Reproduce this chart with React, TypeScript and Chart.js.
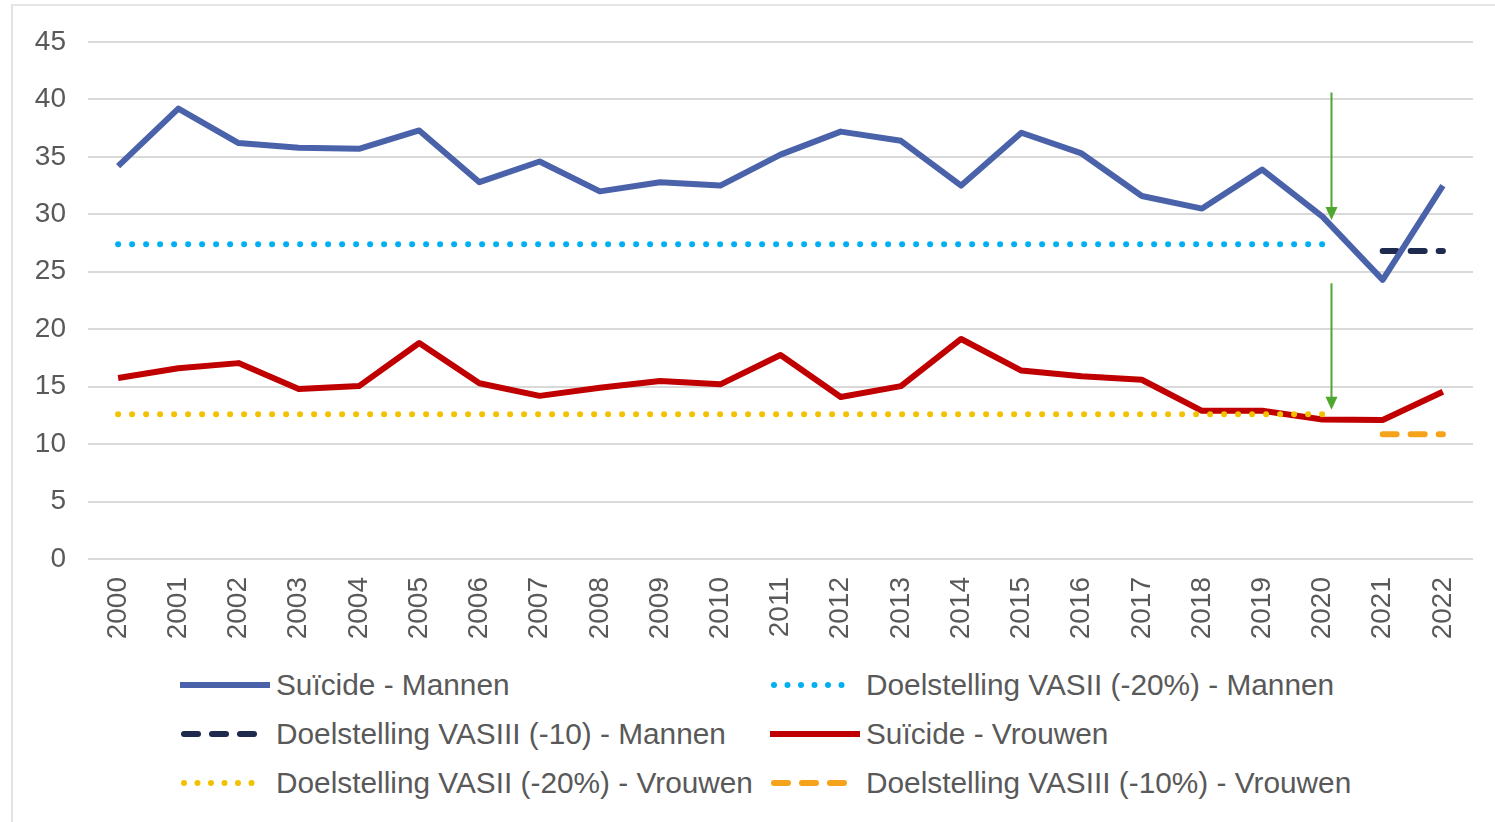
import React, { useEffect, useRef } from "react";
import { Chart, registerables } from "chart.js";

Chart.register(...registerables);

const years = ["2000","2001","2002","2003","2004","2005","2006","2007","2008","2009","2010","2011","2012","2013","2014","2015","2016","2017","2018","2019","2020","2021","2022"];

const suicideMannen = [34.2, 39.2, 36.2, 35.8, 35.7, 37.3, 32.8, 34.6, 32.0, 32.8, 32.5, 35.2, 37.2, 36.4, 32.5, 37.1, 35.3, 31.6, 30.5, 33.9, 29.8, 24.3, 32.5];
const suicideVrouwen = [15.75, 16.6, 17.05, 14.8, 15.05, 18.8, 15.3, 14.2, 14.9, 15.5, 15.2, 17.75, 14.1, 15.05, 19.15, 16.4, 15.9, 15.6, 12.9, 12.9, 12.15, 12.1, 14.55];
const vasiiMannen = [27.4, 27.4, 27.4, 27.4, 27.4, 27.4, 27.4, 27.4, 27.4, 27.4, 27.4, 27.4, 27.4, 27.4, 27.4, 27.4, 27.4, 27.4, 27.4, 27.4, 27.4, null, null];
const vasiiiMannen = [null, null, null, null, null, null, null, null, null, null, null, null, null, null, null, null, null, null, null, null, null, 26.8, 26.8];
const vasiiVrouwen = [12.6, 12.6, 12.6, 12.6, 12.6, 12.6, 12.6, 12.6, 12.6, 12.6, 12.6, 12.6, 12.6, 12.6, 12.6, 12.6, 12.6, 12.6, 12.6, 12.6, 12.6, null, null];
const vasiiiVrouwen = [null, null, null, null, null, null, null, null, null, null, null, null, null, null, null, null, null, null, null, null, null, 10.85, 10.85];

const yTicks = [0, 5, 10, 15, 20, 25, 30, 35, 40, 45];

// green annotation arrows: [categoryIndex, fromValue, toValue]
const arrowIndex = 20.15;
const arrowFrom = [40.6, 24.0];
const arrowTo = [29.5, 13.0];

const FONT = "'Liberation Sans', Arial, sans-serif";
const TEXT = "#595959";

const legendItems = [
  { label: "Suïcide - Mannen", color: "#4A62A9", kind: "solid", col: 0, row: 0 },
  { label: "Doelstelling VASII (-20%) - Mannen", color: "#00B0F0", kind: "dot", col: 1, row: 0 },
  { label: "Doelstelling VASIII (-10) - Mannen", color: "#1F2A4F", kind: "dash", col: 0, row: 1 },
  { label: "Suïcide - Vrouwen", color: "#C00000", kind: "solid", col: 1, row: 1 },
  { label: "Doelstelling VASII (-20%) - Vrouwen", color: "#F2C100", kind: "dot", col: 0, row: 2 },
  { label: "Doelstelling VASIII (-10%) - Vrouwen", color: "#F5A31A", kind: "dash", col: 1, row: 2 },
];

const arrowPlugin = {
  id: "arrows",
  afterDatasetsDraw(chart: any) {
    const { ctx, scales } = chart;
    const xs = scales.x;
    const ys = scales.y;
    const x = xs.getPixelForValue(20) + (arrowIndex - 20) * (xs.getPixelForValue(21) - xs.getPixelForValue(20));
    ctx.save();
    ctx.strokeStyle = "#4EA72E";
    ctx.fillStyle = "#4EA72E";
    ctx.lineWidth = 2;
    for (let i = 0; i < arrowFrom.length; i++) {
      const y1 = ys.getPixelForValue(arrowFrom[i]);
      const y2 = ys.getPixelForValue(arrowTo[i]);
      ctx.beginPath();
      ctx.moveTo(x, y1);
      ctx.lineTo(x, y2 - 10);
      ctx.stroke();
      ctx.beginPath();
      ctx.moveTo(x - 6, y2 - 13);
      ctx.lineTo(x + 6, y2 - 13);
      ctx.lineTo(x, y2);
      ctx.closePath();
      ctx.fill();
    }
    ctx.restore();
  },
};

function Sample({ color, kind }: { color: string; kind: string }) {
  const dash = kind === "dot" ? "0 13.5" : kind === "dash" ? "14 14" : undefined;
  return (
    <svg width={92} height={12} style={{ display: "block" }}>
      <line
        x1={kind === "solid" ? 0 : 4}
        y1={6}
        x2={kind === "solid" ? 90 : 82}
        y2={6}
        stroke={color}
        strokeWidth={6}
        strokeLinecap={kind === "solid" ? "butt" : "round"}
        strokeDasharray={dash}
      />
    </svg>
  );
}

export default function App() {
  const ref = useRef<HTMLCanvasElement>(null);

  useEffect(() => {
    if (!ref.current) return;
    const dotted = (color: string) => ({
      borderColor: color,
      borderWidth: 6,
      borderDash: [0, 14],
      borderCapStyle: "round" as const,
    });
    const dashed = (color: string) => ({
      borderColor: color,
      borderWidth: 6,
      borderDash: [14, 14],
      borderCapStyle: "round" as const,
    });
    const chart = new Chart(ref.current, {
      type: "line",
      data: {
        labels: years,
        datasets: [
          { label: "Doelstelling VASII (-20%) - Vrouwen", data: vasiiVrouwen, ...dotted("#F2C100"), order: 1 },
          { label: "Suïcide - Mannen", data: suicideMannen, borderColor: "#4A62A9", borderWidth: 6, borderJoinStyle: "round", order: 2 },
          { label: "Doelstelling VASIII (-10) - Mannen", data: vasiiiMannen, ...dashed("#1F2A4F"), order: 3 },
          { label: "Doelstelling VASII (-20%) - Mannen", data: vasiiMannen, ...dotted("#00B0F0"), order: 4 },
          { label: "Suïcide - Vrouwen", data: suicideVrouwen, borderColor: "#C00000", borderWidth: 6, borderJoinStyle: "round", order: 5 },
          { label: "Doelstelling VASIII (-10%) - Vrouwen", data: vasiiiVrouwen, ...dashed("#F5A31A"), order: 6 },
        ] as any,
      },
      options: {
        animation: false,
        responsive: false,
        maintainAspectRatio: false,
        spanGaps: false,
        elements: { point: { radius: 0, hoverRadius: 0 }, line: { tension: 0 } },
        layout: { padding: { top: 42, right: 22, left: 0, bottom: 0 } },
        plugins: { legend: { display: false }, tooltip: { enabled: false } },
        scales: {
          x: {
            type: "category",
            offset: true,
            grid: { display: false, drawTicks: false },
            border: { display: false },
            afterFit: (s: any) => { s.height = 91; },
            ticks: {
              autoSkip: false,
              minRotation: 90,
              maxRotation: 90,
              padding: 18,
              color: TEXT,
              font: { family: FONT, size: 28 },
            },
          },
          y: {
            min: 0,
            max: 45,
            afterFit: (s: any) => { s.width = 88; },
            afterBuildTicks: (s: any) => { s.ticks = yTicks.map((v) => ({ value: v })); },
            grid: { color: "#d9d9d9", lineWidth: 2, drawTicks: false },
            border: { display: false },
            ticks: {
              padding: 22,
              color: TEXT,
              font: { family: FONT, size: 28 },
            },
          },
        },
      },
      plugins: [arrowPlugin],
    });
    return () => chart.destroy();
  }, []);

  const colX = [180, 770];
  const rowY = [685, 734, 783];

  return (
    <div style={{ position: "absolute", left: 0, top: 0, width: 1495, height: 822, background: "#fff", overflow: "hidden" }}>
      <div style={{ position: "absolute", left: 11, top: 4, width: 1484, height: 818, borderLeft: "2px solid #e2e2e2", borderTop: "2px solid #e6e6e6" }} />
      <canvas ref={ref} width={1495} height={650} style={{ position: "absolute", left: 0, top: 0, width: 1495, height: 650 }} />
      {legendItems.map((it, i) => (
        <div
          key={i}
          style={{
            position: "absolute",
            left: colX[it.col],
            top: rowY[it.row] - 20,
            height: 40,
            display: "flex",
            alignItems: "center",
            fontFamily: FONT,
            fontSize: 29.8,
            color: TEXT,
            whiteSpace: "nowrap",
          }}
        >
          <Sample color={it.color} kind={it.kind} />
          <span style={{ marginLeft: 4 }}>{it.label}</span>
        </div>
      ))}
    </div>
  );
}
